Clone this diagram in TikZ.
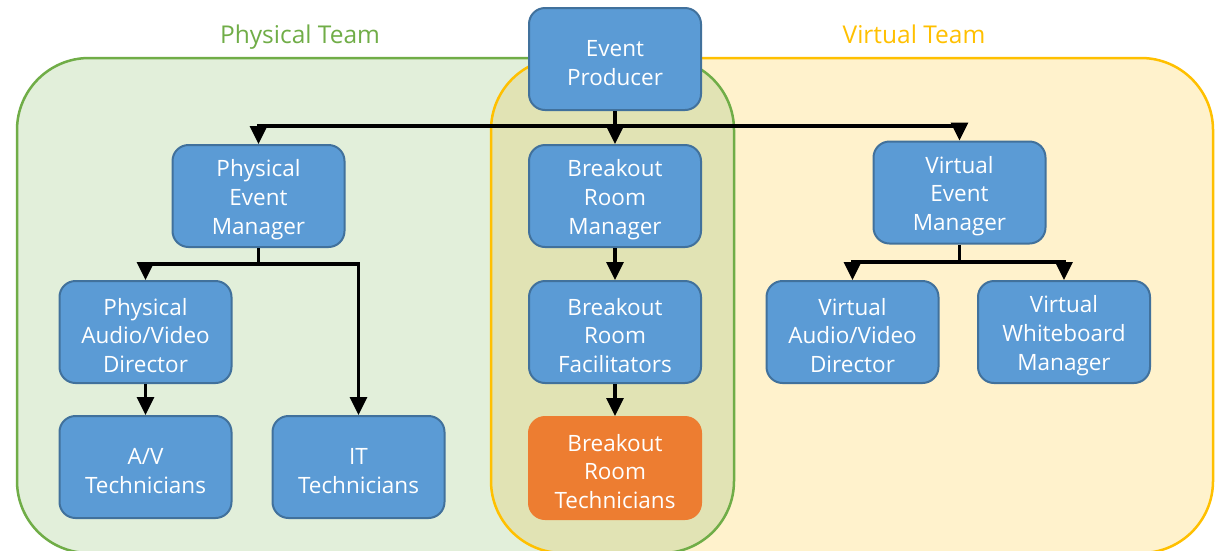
\documentclass[tikz,border=0pt]{standalone}
\usepackage{fontspec}
\setmainfont{Open Sans}
\usetikzlibrary{arrows.meta}
\definecolor{grnline}{HTML}{70AD47}
\definecolor{grnfill}{HTML}{E2EFDA}
\definecolor{ylwline}{HTML}{FFC000}
\definecolor{ylwfill}{HTML}{FFF2CC}
\definecolor{ovlfill}{HTML}{E1E3B4}
\definecolor{boxfill}{HTML}{5B9BD5}
\definecolor{boxline}{HTML}{41719C}
\definecolor{orgfill}{HTML}{ED7D31}
\newcommand\firststrut{\rule{0pt}{24pt}}
\begin{document}
\begin{tikzpicture}[x=1pt,y=-1pt,
 role/.style={draw=boxline, line width=2pt, fill=boxfill, rounded corners=16pt, minimum width=172pt, minimum height=102pt, text=white, align=center, font=\fontsize{22.5}{28.7}\selectfont, inner sep=0pt},
 orgrole/.style={role, fill=orgfill, draw=orgfill},
 link/.style={line width=3.2pt, -{Triangle[length=18pt,width=17pt]}},
 plain/.style={line width=3.2pt},
 teamlabel/.style={font=\fontsize{24.5}{29}\selectfont, inner sep=0pt},
 region/.style={rounded corners=72pt}
]
\useasboundingbox (0,0) rectangle (1225,550);
\fill[white] (0,0) rectangle (1225,550);
% team regions
\path[region, fill=grnfill] (17,58) rectangle (734,553);
\path[region, fill=ylwfill] (491,58) rectangle (1213,553);
\begin{scope}
 \clip[region] (17,58) rectangle (734,553);
 \fill[region, ovlfill] (491,58) rectangle (1213,553);
\end{scope}
\draw[region, grnline, line width=2.5pt] (17,58) rectangle (734,553);
\draw[region, ylwline, line width=2.5pt] (491,58) rectangle (1213,553);
\node[teamlabel, text=grnline] (tphys) at (300,37) {Physical Team};
\node[teamlabel, text=ylwline] (tvirt) at (914,34) {Virtual Team};
% roles
\node[role] (prod) at (615,59) {\firststrut Event\\Producer};
\node[role] (pem) at (258.5,196) {\firststrut Physical\\Event\\Manager};
\node[role] (brm) at (615,196) {\firststrut Breakout\\Room\\Manager};
\node[role] (vem) at (959.5,192.5) {\firststrut Virtual\\Event\\Manager};
\node[role] (pav) at (145.5,332) {\firststrut Physical\\Audio/Video\\Director};
\node[role] (brf) at (615,332) {\firststrut Breakout\\Room\\Facilitators};
\node[role] (vav) at (852.5,332) {\firststrut Virtual\\Audio/Video\\Director};
\node[role] (vwm) at (1064,332) {\firststrut Virtual\\Whiteboard\\Manager};
\node[role] (avt) at (145.5,467) {\firststrut A/V\\Technicians};
\node[role] (itt) at (358.5,467) {\firststrut IT\\Technicians};
\node[orgrole] (brt) at (615,468) {\firststrut Breakout\\Room\\Technicians};
% connectors
\coordinate (j1) at (615,126);
\draw[plain] (prod.south) -- (j1);
\draw[link] (j1) -| (pem.north);
\draw[link] (j1) -- (brm.north);
\draw[link] (j1) -| (vem.north);
\coordinate (j2) at (258.5,264);
\draw[plain] (pem.south) -- (j2);
\draw[link] (j2) -| (pav.north);
\draw[link] (j2) -| (itt.north);
\draw[link] (brm.south) -- (brf.north);
\draw[link] (brf.south) -- (brt.north);
\draw[link] (pav.south) -- (avt.north);
\coordinate (j3) at (959.5,262);
\draw[plain] (vem.south) -- (j3);
\draw[link] (j3) -| (vav.north);
\draw[link] (j3) -| (vwm.north);
\end{tikzpicture}
\end{document}
